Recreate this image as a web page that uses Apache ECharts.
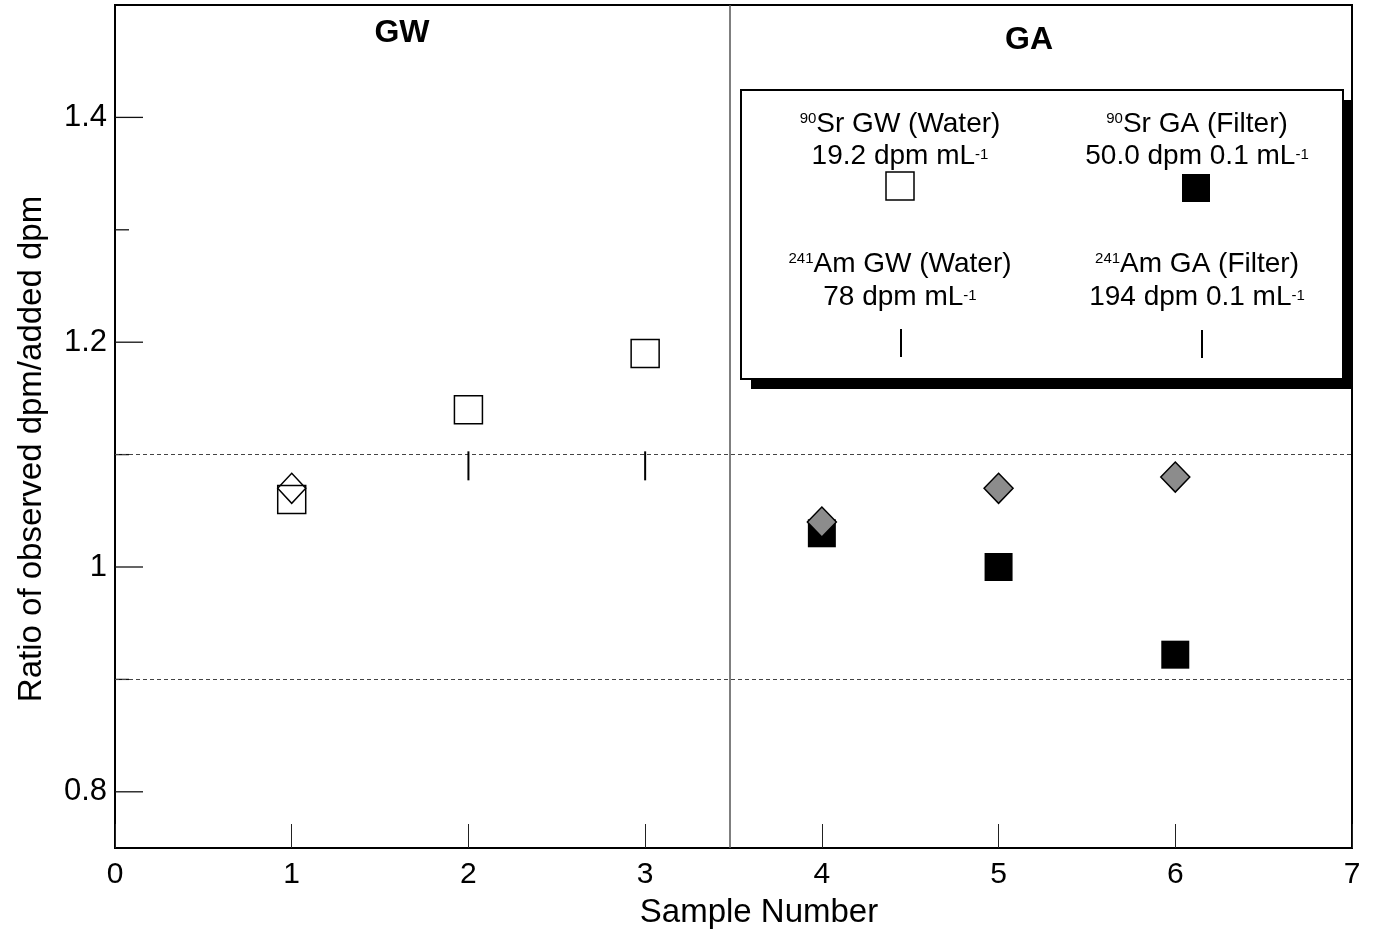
<!DOCTYPE html>
<html lang="en">
<head>
    <meta charset="UTF-8">
    <title>Ratio of observed dpm/added dpm</title>
    <script src="https://cdn.jsdelivr.net/npm/echarts@6/dist/echarts.min.js"></script>
    <style>
        body { margin: 0; background: #fff; }
    </style>
</head>
<body>

<div id="main" style="width: 1377px; height: 938px;"></div>
<script>
    // data
    var srGW = [[1, 1.06], [2, 1.14], [3, 1.19]];        // open squares
    var srGA = [[4, 1.03], [5, 1.00], [6, 0.922]];       // filled squares
    var amGW = [[1, 1.07], [2, 1.09], [3, 1.09]];        // diamond / bar marks
    var amGA = [[4, 1.04], [5, 1.07], [6, 1.08]];        // grey diamonds
    var limits = [1.105, 0.904];                         // dashed +-10% band
    var splitX = 3.48;                                   // GW | GA divider
    var yMajor = [0.8, 1.0, 1.2, 1.4];
    var yMinor = [0.9, 1.1, 1.3];

    var font = 'Liberation Sans, Arial, sans-serif';
    var mychart = echarts.init(document.getElementById('main'));

    function tickData() {
        var d = [];
        yMajor.forEach(function (v) { d.push([0, v, 28]); });
        yMinor.forEach(function (v) { d.push([0, v, 14]); });
        return d;
    }

    var legendRich = {
        sup: { fontSize: 15, fontFamily: font, color: '#000', padding: [0, 0, 10, 0] },
        sub: { fontSize: 15, fontFamily: font, color: '#000', padding: [0, 0, 2, 0] },
        t: { fontSize: 28, fontFamily: font, color: '#000' }
    };

    function legendText(x, y, s) {
        return {
            type: 'text', position: [x, y], z: 20,
            style: {
                text: s, rich: legendRich, align: 'center', verticalAlign: 'middle',
                fontSize: 28, fontFamily: font, fill: '#000'
            }
        };
    }

    mychart.setOption({
        animation: false,
        backgroundColor: '#fff',
        grid: {
            left: 115, right: 25, top: 5, bottom: 90,
            show: true, borderColor: '#000', borderWidth: 2
        },
        xAxis: {
            type: 'value', min: 0, max: 7, interval: 1,
            axisLine: { show: true, onZero: false, lineStyle: { color: '#000', width: 2 } },
            axisTick: { show: true, inside: true, length: 24, lineStyle: { color: '#222', width: 1 } },
            axisLabel: { fontSize: 30, fontFamily: font, color: '#000', margin: 12 },
            splitLine: { show: false }
        },
        yAxis: {
            type: 'value', min: 0.75, max: 1.5, interval: 0.05,
            axisLine: { show: true, onZero: false, lineStyle: { color: '#000', width: 2 } },
            axisTick: { show: false },
            axisLabel: {
                fontSize: 31, fontFamily: font, color: '#000', margin: 8,
                formatter: function (v) {
                    var r = Math.round(v * 100);
                    for (var i = 0; i < yMajor.length; i++) {
                        if (Math.round(yMajor[i] * 100) === r) {
                            return r === 100 ? '1' : (r / 100).toFixed(1);
                        }
                    }
                    return '';
                }
            },
            splitLine: { show: false }
        },
        graphic: [
            { type: 'text', position: [402, 33], z: 20,
              style: { text: 'GW', fontSize: 32, fontWeight: 'bold', fontFamily: font, fill: '#000', align: 'center', verticalAlign: 'middle' } },
            { type: 'text', position: [1029, 40], z: 20,
              style: { text: 'GA', fontSize: 32, fontWeight: 'bold', fontFamily: font, fill: '#000', align: 'center', verticalAlign: 'middle' } },
            { type: 'text', position: [759, 913], z: 20,
              style: { text: 'Sample Number', fontSize: 33, fontFamily: font, fill: '#000', align: 'center', verticalAlign: 'middle' } },
            { type: 'text', position: [32, 449], rotation: Math.PI / 2, z: 20,
              style: { text: 'Ratio of observed dpm/added dpm', fontSize: 33, fontFamily: font, fill: '#000', align: 'center', verticalAlign: 'middle' } },
            // legend box with solid drop shadow
            { type: 'rect', z: 15,
              shape: { x: 751, y: 100, width: 602, height: 289 },
              style: { fill: '#000' } },
            { type: 'rect', z: 16,
              shape: { x: 741, y: 90, width: 602, height: 289 },
              style: { fill: '#fff', stroke: '#000', lineWidth: 2 } },
            legendText(900, 124, '{sup|90}{t|Sr GW (Water)}'),
            legendText(900, 156, '{t|19.2 dpm mL}{sub|-1}'),
            legendText(1197, 124, '{sup|90}{t|Sr GA (Filter)}'),
            legendText(1197, 156, '{t|50.0 dpm 0.1 mL}{sub|-1}'),
            legendText(900, 264, '{sup|241}{t|Am GW (Water)}'),
            legendText(900, 297, '{t|78 dpm mL}{sub|-1}'),
            legendText(1197, 264, '{sup|241}{t|Am GA (Filter)}'),
            legendText(1197, 297, '{t|194 dpm 0.1 mL}{sub|-1}'),
            { type: 'rect', z: 20, shape: { x: 886, y: 172, width: 28, height: 28 },
              style: { fill: '#fff', stroke: '#000', lineWidth: 1.5 } },
            { type: 'rect', z: 20, shape: { x: 1182, y: 174, width: 28, height: 28 },
              style: { fill: '#000' } },
            { type: 'rect', z: 20, shape: { x: 900, y: 329, width: 2, height: 28 },
              style: { fill: '#000' } },
            { type: 'rect', z: 20, shape: { x: 1201, y: 330, width: 2, height: 28 },
              style: { fill: '#000' } }
        ],
        series: [
            {
                name: 'ticks', type: 'custom', data: tickData(), z: 3, silent: true,
                renderItem: function (params, api) {
                    var p = api.coord([api.value(0), api.value(1)]);
                    return {
                        type: 'line',
                        shape: { x1: p[0], y1: p[1], x2: p[0] + api.value(2), y2: p[1] },
                        style: { stroke: '#111', lineWidth: 1.3 }
                    };
                }
            },
            {
                name: '90Sr GW (Water)', type: 'scatter', data: srGW, z: 5,
                symbol: 'rect', symbolSize: 28,
                itemStyle: { color: 'rgba(255,255,255,0)', borderColor: '#000', borderWidth: 1.5, opacity: 1 },
                markLine: {
                    silent: true, symbol: 'none', label: { show: false },
                    lineStyle: { type: [4, 3], color: '#444', width: 1 },
                    data: limits.map(function (v) { return { yAxis: v }; })
                }
            },
            {
                name: '90Sr GA (Filter)', type: 'scatter', data: srGA, z: 5,
                symbol: 'rect', symbolSize: 28,
                itemStyle: { color: '#000', borderColor: '#000', borderWidth: 0, opacity: 1 },
                markLine: {
                    silent: true, symbol: 'none', label: { show: false },
                    lineStyle: { type: 'solid', color: '#555', width: 1.5 },
                    data: [{ xAxis: splitX }]
                }
            },
            {
                name: '241Am GW (Water)', type: 'scatter', z: 6,
                data: amGW.map(function (p, i) {
                    if (i === 0) {
                        return { value: p, symbol: 'diamond', symbolSize: [28, 30],
                                 itemStyle: { color: 'rgba(255,255,255,0)', borderColor: '#000', borderWidth: 1.5, opacity: 1 } };
                    }
                    return { value: p, symbol: 'rect', symbolSize: [2, 29],
                             itemStyle: { color: '#000', borderWidth: 0, opacity: 1 } };
                })
            },
            {
                name: '241Am GA (Filter)', type: 'scatter', data: amGA, z: 6,
                symbol: 'diamond', symbolSize: [29, 30],
                itemStyle: { color: '#8c8c8c', borderColor: '#000', borderWidth: 1.5, opacity: 1 }
            }
        ]
    });
</script>

</body>
</html>
